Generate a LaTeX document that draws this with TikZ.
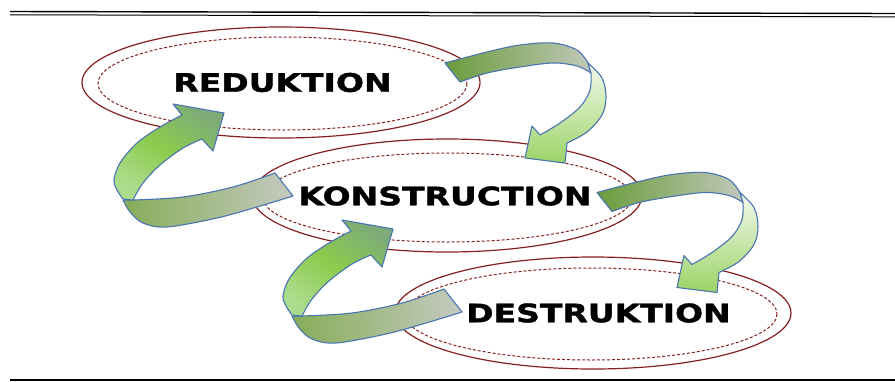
\documentclass[tikz,border=0pt]{standalone}
\usepackage{fontspec}
\newfontfamily\lblfont{DejaVu Sans Bold}[FakeStretch=1.3,FakeBold=1.6]

\definecolor{ringred}{HTML}{862020}
\definecolor{edgeblue}{HTML}{4A74B2}
\definecolor{backdark}{HTML}{6A9C3C}
\definecolor{backgrey}{HTML}{C0C8B9}
\definecolor{frontpale}{HTML}{F3F9EE}
\definecolor{frontgreen}{HTML}{9CD366}
\definecolor{headteal}{HTML}{7DAC78}
\definecolor{bodygreen}{HTML}{8CCB4C}
\definecolor{lightgreen}{HTML}{ABDC8C}
\definecolor{bandgreen}{HTML}{86AD58}
\definecolor{bandgrey}{HTML}{C4CAC0}

\tikzset{
  outerring/.style={draw=ringred, line width=1.2pt},
  innerring/.style={draw=ringred, line width=1pt, dash pattern=on 3pt off 2pt},
  stagelabel/.style={inner sep=0pt, font=\lblfont\fontsize{25.4}{25.4}\selectfont},
  ribbon/.style={draw=edgeblue, line width=1.1pt, line join=round},
  % ribbon arrow that leaves to the right and turns down
  downturn/.pic={
    \path[ribbon, left color=backdark, right color=backgrey]
      (445,63) -- plot[smooth,tension=0.55] coordinates {(445,63) (487,52) (520,45) (553,43) (577,50) (588,63)}
      -- (591,73)
      -- plot[smooth,tension=0.55] coordinates {(591,73) (577,66) (553,63) (520,67) (487,73) (460,82)}
      -- cycle;
    \path[ribbon, top color=frontpale, bottom color=frontgreen]
      (588,63) -- plot[smooth,tension=0.55] coordinates {(588,63) (602,78) (606,97) (602,115) (587,132) (567,143)}
      -- (565,163) -- (525,158) -- (532,126) -- (540,135)
      -- plot[smooth,tension=0.55] coordinates {(540,135) (560,123) (580,107) (590,90) (591,73)}
      -- cycle;
  },
  % ribbon arrow that comes in from the right and turns up
  upturn/.pic={
    \path[ribbon, left color=bandgreen, right color=bandgrey]
      (133,200) -- plot[smooth,tension=0.55] coordinates {(133,200) (183,197) (233,187) (275,173)}
      -- (293,196)
      -- plot[smooth,tension=0.55] coordinates {(293,196) (257,207) (217,218) (167,227) (143,223) (130,212) (123,200)}
      -- cycle;
    \path[ribbon, top color=headteal, bottom color=lightgreen, middle color=bodygreen, shading angle=-35]
      (182,115) -- (173,104) -- (224,113) -- (213,151) -- (202,139)
      -- plot[smooth,tension=0.55] coordinates {(202,139) (183,148) (160,165) (143,183) (133,200)}
      -- (123,199)
      -- plot[smooth,tension=0.55] coordinates {(123,199) (117,190) (114,180) (120,163) (137,143) (160,127) (182,115)}
      -- cycle;
  }
}

\begin{document}
\begin{tikzpicture}[x=1pt,y=-1pt]
  \useasboundingbox (0,0) rectangle (895,381);

  % header and footer rules
  \draw[line width=1.4pt] (10,11.5) -- (895,13.5);
  \draw[line width=1pt] (10,14.8) -- (895,16.8);
  \draw[line width=1.1pt] (10,380) -- (895,380);

  % stage rings
  \draw[outerring] (281,82.5) ellipse [x radius=199, y radius=55.5];
  \draw[innerring] (282.5,83.5) ellipse [x radius=184.5, y radius=46.5];
  \draw[outerring] (447,195.5) ellipse [x radius=195, y radius=56.5];
  \draw[innerring] (447.5,197.5) ellipse [x radius=184.5, y radius=44.5];
  \draw[outerring] (593,313) ellipse [x radius=198, y radius=56];
  \draw[innerring] (591,314) ellipse [x radius=186, y radius=46];

  % stage labels
  \node[stagelabel] (reduktion) at (282.5,82.5) {REDUKTION};
  \node[stagelabel] (konstruktion) at (445,196) {KONSTRUCTION};
  \node[stagelabel] (destruktion) at (598.5,313) {DESTRUKTION};

  % cycle arrows
  \pic at (0,0) {downturn};
  \pic at (152,129.5) {downturn};
  \pic at (0,0) {upturn};
  \pic at (169,116) {upturn};
\end{tikzpicture}
\end{document}
